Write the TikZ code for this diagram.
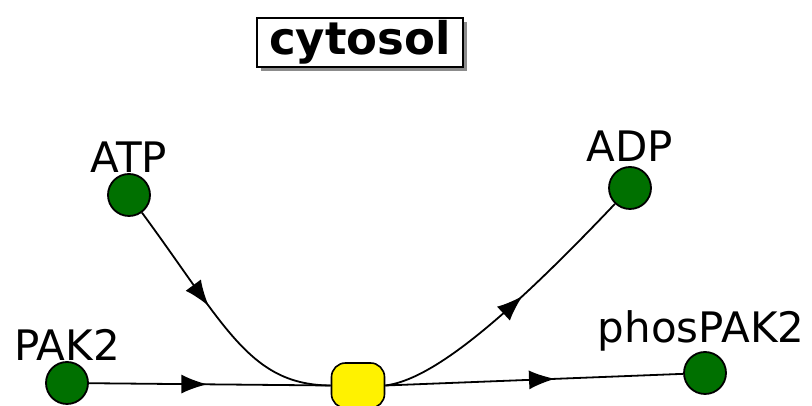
\documentclass[tikz,border=0pt]{standalone}
\usepackage{fontspec}
\setmainfont{DejaVu Sans}
\usepackage{xcolor}
\usepackage{tikz}
\usetikzlibrary{arrows.meta,positioning,decorations.markings,shadows}
\definecolor{speciesgreen}{RGB}{0,112,0}

\begin{document}
\begin{tikzpicture}[
  x=1pt, y=1pt,
  >=Latex,
  species/.style={circle, draw, line width=1.8pt, fill=speciesgreen, minimum size=42pt, inner sep=0pt},
  process/.style={draw, line width=1.6pt, rounded corners=14pt, fill=yellow, minimum width=53pt, minimum height=45pt},
  lbl/.style={inner sep=0pt, font=\fontsize{42}{50}\selectfont},
  compart/.style={draw, line width=2pt, fill=white, minimum width=206pt, minimum height=49pt, inner sep=0pt,
    font=\bfseries\fontsize{45}{54}\selectfont,
    drop shadow={shadow xshift=4pt, shadow yshift=-4pt, fill=black!45, opacity=1}},
  flow/.style={line width=1.8pt, postaction={decorate},
    decoration={markings, mark=at position #1 with {\arrow{Latex[length=26pt,width=19pt]}}}}
]
\useasboundingbox (0,0) rectangle (812,406);

\node[compart] (cytosol) at (360,363.5) {cytosol};

\node[species] (atp) at (129,211) {};
\node[species] (adp) at (630,218) {};
\node[species] (pak) at (67,23) {};
\node[species] (phos) at (705,33) {};
\node[process] (proc) at (358,20.5) {};

\node[lbl, above=0pt of atp] (atplbl) {ATP};
\node[lbl, above=4pt of adp] (adplbl) {ADP};
\node[lbl, above=0pt of pak] (paklbl) {PAK2};
\node[lbl, above=9pt of phos, anchor=base, xshift=-4pt] (phoslbl) {phosPAK2};

\draw[flow=0.43] (atp) .. controls (226,79) and (250,21) .. (proc.west);
\draw[flow=0.56] (proc.east) .. controls (430,26) and (500,81) .. (adp);
\draw[flow=0.49] (pak) -- (proc.west);
\draw[flow=0.57] (proc.east) -- (phos);
\end{tikzpicture}
\end{document}
